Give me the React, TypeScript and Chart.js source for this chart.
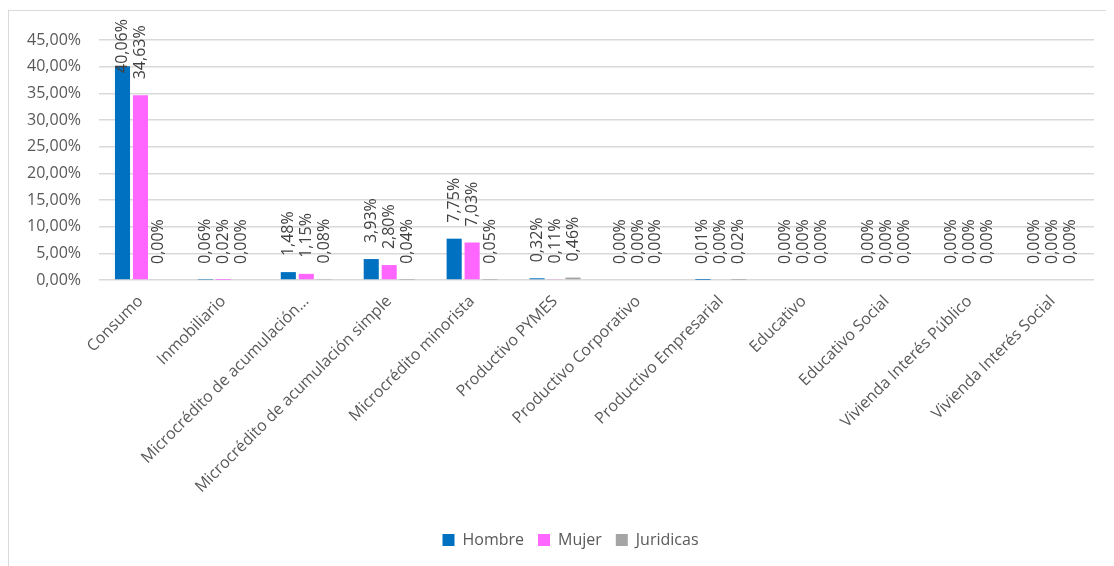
import React, { useEffect, useRef } from "react";
import { Chart, registerables } from "chart.js";

Chart.register(...registerables);

const categories = [
  "Consumo",
  "Inmobiliario",
  "Microcrédito de acumulación…",
  "Microcrédito de acumulación simple",
  "Microcrédito minorista",
  "Productivo PYMES",
  "Productivo Corporativo",
  "Productivo Empresarial",
  "Educativo",
  "Educativo Social",
  "Vivienda Interés Público",
  "Vivienda Interés Social",
];
const hombre = [40.06, 0.06, 1.48, 3.93, 7.75, 0.32, 0.0, 0.01, 0.0, 0.0, 0.0, 0.0];
const mujer = [34.63, 0.02, 1.15, 2.8, 7.03, 0.11, 0.0, 0.0, 0.0, 0.0, 0.0, 0.0];
const juridicas = [0.0, 0.0, 0.08, 0.04, 0.05, 0.46, 0.0, 0.02, 0.0, 0.0, 0.0, 0.0];
const seriesNames = ["Hombre", "Mujer", "Juridicas"];
const seriesColors = ["#0070C0", "#FF66FF", "#A5A5A5"];

const FONT = "'Open Sans', sans-serif";
const fmt = (v: number) => v.toFixed(2).replace(".", ",") + "%";

const W = 1098;
const H = 556;

const labelPlugin = {
  id: "barLabels",
  afterDatasetsDraw(chart: any) {
    const ctx = chart.ctx;
    ctx.save();
    ctx.font = `16px ${FONT}`;
    ctx.fillStyle = "#404040";
    ctx.textAlign = "left";
    ctx.textBaseline = "middle";
    chart.data.datasets.forEach((ds: any, di: number) => {
      const meta = chart.getDatasetMeta(di);
      meta.data.forEach((bar: any, i: number) => {
        const txt = fmt(ds.data[i]);
        const tw = ctx.measureText(txt).width;
        let start = bar.y - 16;
        const minTop = 8;
        if (start - tw < minTop) start = minTop + tw;
        ctx.save();
        ctx.translate(bar.x, start);
        ctx.rotate(-Math.PI / 2);
        ctx.fillText(txt, 0, 0);
        ctx.restore();
      });
    });
    ctx.restore();
  },
};

const legendShift = {
  id: "legendShift",
  afterLayout(chart: any) {
    if (chart.legend) {
      chart.legend.left += 19;
      chart.legend.right += 19;
    }
  },
};

export default function App() {
  const ref = useRef<HTMLCanvasElement>(null);
  useEffect(() => {
    if (!ref.current) return;
    const data = [hombre, mujer, juridicas];
    const chart = new Chart(ref.current, {
      type: "bar",
      data: {
        labels: categories,
        datasets: seriesNames.map((n, k) => ({
          label: n,
          data: data[k],
          backgroundColor: seriesColors[k],
          borderWidth: 0,
          categoryPercentage: 0.65,
          barPercentage: 0.84,
        })),
      },
      options: {
        responsive: false,
        animation: false,
        layout: { padding: { top: 29, right: 13, left: 0, bottom: 9 } },
        plugins: {
          tooltip: { enabled: false },
          legend: {
            position: "bottom",
            labels: {
              font: { family: FONT, size: 16 },
              color: "#595959",
              boxWidth: 12,
              boxHeight: 12,
              padding: 14,
            },
          },
        },
        scales: {
          x: {
            grid: { display: false, drawTicks: false },
            border: { display: false },
            ticks: {
              autoSkip: false,
              minRotation: 45,
              maxRotation: 45,
              font: { family: FONT, size: 16 },
              color: "#595959",
              padding: 12,
            },
            afterFit: (s: any) => {
              s.height = 238;
            },
          },
          y: {
            min: 0,
            max: 45,
            grid: { color: "#d9d9d9", lineWidth: 1.5, drawTicks: false },
            border: { display: false },
            ticks: {
              stepSize: 5,
              font: { family: FONT, size: 16 },
              color: "#595959",
              padding: 18,
              callback: (v: any) => fmt(Number(v)),
            },
            afterFit: (s: any) => {
              s.width = 90;
            },
          },
        },
      },
      plugins: [labelPlugin, legendShift],
    });
    return () => chart.destroy();
  }, []);
  return (
    <div
      style={{
        marginTop: 2,
        width: 1100,
        height: 558,
        boxSizing: "border-box",
        border: "1px solid #d9d9d9",
      }}
    >
      <canvas ref={ref} width={W} height={H} style={{ display: "block", width: W, height: H }} />
    </div>
  );
}
